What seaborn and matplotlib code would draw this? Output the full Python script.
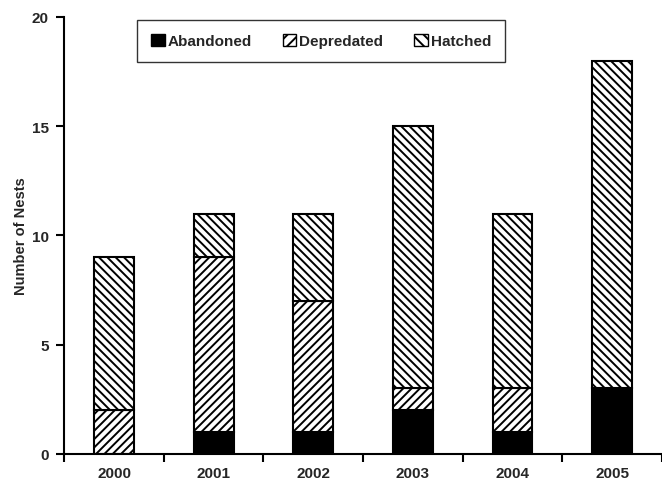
import matplotlib
matplotlib.use("Agg")
import matplotlib.pyplot as plt
import seaborn as sns
import numpy as np
import pandas as pd
from matplotlib.patches import Patch

years = ["2000", "2001", "2002", "2003", "2004", "2005"]
abandoned = [0, 1, 1, 2, 1, 3]
depredated = [2, 8, 6, 1, 2, 0]
hatched = [7, 2, 4, 12, 8, 15]

sns.set_theme(style="white")
plt.rcParams['font.family'] = ['Liberation Sans', 'DejaVu Sans']
plt.rcParams['hatch.linewidth'] = 1.4
plt.rcParams['hatch.color'] = 'black'

fig = plt.figure(figsize=(6.62, 4.85), dpi=100)
ax = fig.add_axes([0.097, 0.062, 0.903, 0.901])

df = pd.DataFrame({"year": years, "abandoned": abandoned,
                   "depredated": depredated, "hatched": hatched})
bottom2 = np.array(abandoned)
bottom3 = bottom2 + np.array(depredated)

common = dict(width=0.4, edgecolor="black", linewidth=1.5, ax=ax)
sns.barplot(data=df, x="year", y="abandoned", color="black", **common)
sns.barplot(data=df, x="year", y="depredated", bottom=bottom2, color="white",
            hatch="////", **common)
sns.barplot(data=df, x="year", y="hatched", bottom=bottom3, color="white",
            hatch="\\\\\\\\", **common)

ax.set_xlim(-0.5, 5.5)
ax.set_ylim(0, 20)
ax.set_yticks([0, 5, 10, 15, 20])
ax.set_xlabel("")
ax.set_ylabel("Number of Nests", fontsize=10.5, fontweight="bold", labelpad=3)
for lab in ax.get_xticklabels() + ax.get_yticklabels():
    lab.set_fontweight("bold")
    lab.set_fontsize(11)

sns.despine(ax=ax)
for s in ["left", "bottom"]:
    ax.spines[s].set_color("black")
    ax.spines[s].set_linewidth(1.5)

ax.tick_params(axis="y", which="major", direction="out", length=6, width=1.5,
               color="black", left=True, pad=5)
ax.tick_params(axis="x", which="major", length=0, pad=9)
ax.set_xticks(np.arange(-0.5, 6.0, 1.0), minor=True)
ax.tick_params(axis="x", which="minor", direction="out", length=6, width=1.5,
               color="black", bottom=True)

handles = [Patch(facecolor="black", edgecolor="black", label="Abandoned"),
           Patch(facecolor="white", edgecolor="black", hatch="///", label="Depredated"),
           Patch(facecolor="white", edgecolor="black", hatch="\\\\\\", label="Hatched")]
leg = ax.legend(handles=handles, ncol=3, loc="upper left",
                bbox_to_anchor=(0.117, 1.0), frameon=True, fancybox=False,
                prop={"weight": "bold", "size": 11}, handlelength=0.9,
                handleheight=0.9, handletextpad=0.2, columnspacing=2.0,
                borderpad=0.9, borderaxespad=0.2)
leg.get_frame().set_edgecolor("black")
leg.get_frame().set_linewidth(1.0)

fig.savefig("out.png", dpi=100)
